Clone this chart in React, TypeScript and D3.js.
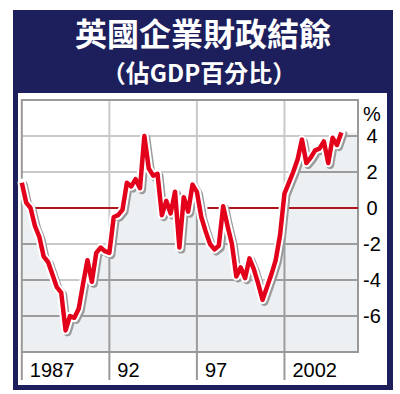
import React from "react";
import * as d3 from "d3";

const TITLE = "英國企業財政結餘";
const SUBTITLE = "（佔GDP百分比）";
const START_YEAR = 1987;
// quarterly corporate financial balance, % of GDP, 1987Q1 - 2005Q2
const balance = [
  1.4, 0.3, 0.0, -1.0, -1.6, -2.7, -3.0, -3.7, -4.4, -4.7, -6.8, -6.0,
  -6.1, -5.6, -4.2, -2.9, -4.1, -2.5, -2.2, -2.4, -2.5, -0.5, -0.4, -0.1,
  1.4, 1.2, 1.6, 1.1, 4.0, 2.2, 1.8, 1.9, -0.4, 0.4, -0.3, 0.9,
  -2.2, 0.6, -0.2, 1.3, 0.9, -0.5, -1.3, -2.0, -2.3, -2.1, 0.1, -1.0,
  -2.0, -3.8, -3.3, -3.9, -2.8, -3.4, -4.2, -5.1, -4.4, -3.7, -2.9, -1.5,
  0.8, 1.4, 2.0, 2.7, 3.8, 2.5, 2.8, 3.2, 3.3, 3.7, 2.5, 3.9,
  3.5, 4.2,
];
const yTickValues = [4, 2, 0, -2, -4, -6];
const yGridValues = [4, 2, -2, -4, -6];
const xTickYears = [1987, 1992, 1997, 2002];
const xTickLabels = ["1987", "92", "97", "2002"];
const xGridYears = [1992, 1997, 2002];
const zeroSpans: [number, number][] = [
  [1987.45, 1992.6],
  [1997.6, 2006.2],
];

const W = 400;
const H = 394;
const NAVY = "#1d1f5c";
const RED = "#e3001b";

export default function App() {
  const x = d3.scaleLinear().domain([1987, 2006.2]).range([21.8, 358]);
  const y = d3.scaleLinear().domain([-8, 6]).range([352, 100]);

  const pts: [number, number][] = balance.map((v, i) => [START_YEAR + i / 4, v]);
  const areaPts: [number, number][] = [...pts, [2006.2, balance[balance.length - 1]]];

  const line = d3
    .line<[number, number]>()
    .x((d) => x(d[0]))
    .y((d) => y(d[1]));
  const area = d3
    .area<[number, number]>()
    .x((d) => x(d[0]))
    .y0(y(-8))
    .y1((d) => y(d[1]));

  const linePath = line(pts) || "";
  const areaPath = area(areaPts) || "";
  const [x0, x1] = x.range();
  const [yb, yt] = y.range();

  const grid = (color: string) => (
    <g stroke={color} strokeWidth={2}>
      {yGridValues.map((v) => (
        <line key={"h" + v} x1={x0} x2={x1} y1={y(v)} y2={y(v)} />
      ))}
      {xGridYears.map((yr) => (
        <line key={"v" + yr} x1={x(yr)} x2={x(yr)} y1={yt} y2={yb} />
      ))}
    </g>
  );

  return (
    <svg
      width={W}
      height={H}
      style={{ position: "absolute", left: 0, top: 0 }}
      fontFamily="'Liberation Sans', Arial, sans-serif"
    >
      <defs>
        <clipPath id="areaClip">
          <path d={areaPath} />
        </clipPath>
      </defs>
      <rect x={0} y={0} width={W} height={H} fill="#fff" />
      <rect x={13} y={10} width={380} height={380} fill={NAVY} />
      <rect x={18} y={93} width={369} height={292} fill="#fff" />

      <text
        x={203}
        y={46}
        textAnchor="middle"
        fill="#fff"
        fontSize={32}
        fontWeight={700}
        fontFamily="'Noto Sans CJK TC', 'Noto Sans CJK SC', sans-serif"
      >
        {TITLE}
      </text>
      <text
        x={199}
        y={82}
        textAnchor="middle"
        fill="#fff"
        fontSize={24}
        fontWeight={700}
        fontFamily="'Noto Sans CJK TC', 'Noto Sans CJK SC', sans-serif"
      >
        {SUBTITLE}
      </text>

      {/* plot background + light grid */}
      {grid("#c9c9c9")}
      <path d={areaPath} fill="#edf0f3" />
      <g clipPath="url(#areaClip)">{grid("#9c9c9c")}</g>
      <rect x={x0} y={yt} width={x1 - x0} height={yb - yt} fill="none" stroke="#999" strokeWidth={2} />
      <g stroke="#999" strokeWidth={2}>
        {xTickYears.map((yr) => (
          <line key={yr} x1={x(yr)} x2={x(yr)} y1={yb} y2={380} />
        ))}
      </g>

      {/* zero line */}
      <g stroke="#b0141c" strokeWidth={2.2}>
        {zeroSpans.map(([a, b], i) => (
          <line key={i} x1={x(a)} x2={x(b)} y1={y(0)} y2={y(0)} />
        ))}
      </g>

      {/* data line with shadow and halo */}
      <path d={linePath} transform="translate(2,2)" fill="none" stroke="#9a9a9a" strokeWidth={8} strokeLinejoin="round" strokeLinecap="round" />
      <path d={linePath} fill="none" stroke="#fff" strokeWidth={8.5} strokeLinejoin="round" strokeLinecap="round" />
      <path d={linePath} fill="none" stroke={RED} strokeWidth={4.5} strokeLinejoin="round" strokeLinecap="butt" />

      {/* y labels */}
      <g fontSize={20} fill="#000" textAnchor="middle">
        <text x={372} y={114} dy="0.36em">%</text>
        {yTickValues.map((v) => (
          <text key={v} x={372} y={y(v)} dy="0.36em">
            {v < 0 ? "-" + Math.abs(v) : String(v)}
          </text>
        ))}
      </g>
      {/* x labels */}
      <g fontSize={20} fill="#000">
        {xTickYears.map((yr, i) => (
          <text key={yr} x={x(yr) + 8} y={377}>
            {xTickLabels[i]}
          </text>
        ))}
      </g>
    </svg>
  );
}
